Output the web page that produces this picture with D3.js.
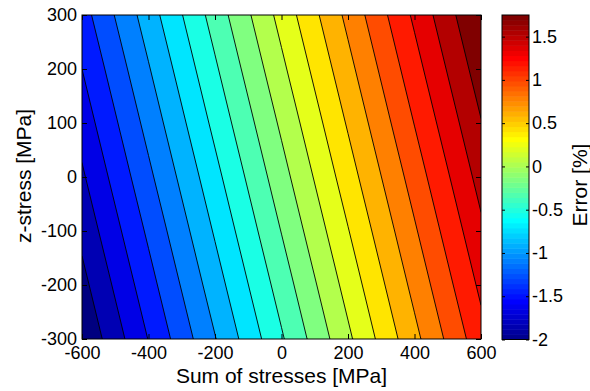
<!DOCTYPE html>
<html><head><meta charset="utf-8">
<script src="https://cdn.jsdelivr.net/npm/d3@7"></script>
<style>body{margin:0;background:#fff}text{font-family:Arial,"Liberation Sans",sans-serif;fill:#000}</style>
</head><body>
<svg id="chart" width="590" height="391"></svg>
<script>
// ---- data ----
const xValues = [-600, -400, -200, 0, 200, 400, 600];          // Sum of stresses [MPa]
const yValues = [-300, -200, -100, 0, 100, 200, 300];          // z-stress [MPa]
// Error [%] at each (x, y); rows follow yValues (ascending), columns follow xValues
const errorGrid = [
  [-2.000, -1.478, -0.957, -0.435, 0.087, 0.609, 1.130],
  [-1.897, -1.375, -0.853, -0.332, 0.190, 0.712, 1.234],
  [-1.793, -1.272, -0.750, -0.228, 0.293, 0.815, 1.337],
  [-1.690, -1.168, -0.647, -0.125, 0.397, 0.918, 1.440],
  [-1.587, -1.065, -0.543, -0.022, 0.500, 1.022, 1.543],
  [-1.484, -0.962, -0.440, 0.082, 0.603, 1.125, 1.647],
  [-1.380, -0.858, -0.337, 0.185, 0.706, 1.228, 1.750]
];
const contourLevels = [-1.841, -1.663, -1.484, -1.305, -1.127, -0.948, -0.770, -0.591, -0.413, -0.234,
                       -0.055, 0.123, 0.302, 0.480, 0.659, 0.838, 1.016, 1.195, 1.373, 1.552];
const xTicks = [-600, -400, -200, 0, 200, 400, 600];
const yTicks = [-300, -200, -100, 0, 100, 200, 300];
const cbTicks = [-2, -1.5, -1, -0.5, 0, 0.5, 1, 1.5];
const cbDomain = [-2, 1.75];
const xTitle = "Sum of stresses [MPa]";
const yTitle = "z-stress [MPa]";
const cbTitle = "Error [%]";

// ---- colormap (jet) ----
const clamp = v => Math.max(0, Math.min(1, v));
function jetT(t) {
  return d3.rgb(255 * clamp(1.5 - Math.abs(4 * t - 3)), 255 * clamp(1.5 - Math.abs(4 * t - 2)), 255 * clamp(1.5 - Math.abs(4 * t - 1))).toString();
}
function jetMap(n) {
  const m = Math.ceil(n / 4), u = [];
  for (let i = 1; i <= m; i++) u.push(i / m);
  for (let i = 0; i < m - 1; i++) u.push(1);
  for (let i = m; i >= 1; i--) u.push(i / m);
  const gOff = Math.ceil(m / 2) - (n % 4 === 1 ? 1 : 0);
  const J = Array.from({length: n}, () => [0, 0, 0]);
  u.forEach((val, k) => {
    const g = gOff + k + 1, r = g + m, b = g - m;
    if (r <= n) J[r - 1][0] = val;
    if (g <= n) J[g - 1][1] = val;
    if (b >= 1) J[b - 1][2] = val;
  });
  return J.map(c => d3.rgb(c[0] * 255, c[1] * 255, c[2] * 255).toString());
}

const svg = d3.select("#chart");
const L = 82, T = 15, R = 481, B = 339;
const x = d3.scaleLinear([xValues[0], xValues[xValues.length - 1]], [L, R]);
const y = d3.scaleLinear([yValues[0], yValues[yValues.length - 1]], [B, T]);

const nx = xValues.length, ny = yValues.length;
const gridX = d3.scaleLinear([0.5, nx - 0.5], [xValues[0], xValues[nx - 1]]);
const gridY = d3.scaleLinear([0.5, ny - 0.5], [yValues[0], yValues[ny - 1]]);
const path = d3.geoPath(d3.geoTransform({
  point(px, py) { this.stream.point(x(gridX(px)), y(gridY(py))); }
}));

svg.append("defs").append("clipPath").attr("id", "clip")
  .append("rect").attr("x", L).attr("y", T).attr("width", R - L).attr("height", B - T);

const nBands = contourLevels.length + 1;
const bandColor = i => jetT(i / (nBands - 1));
const contours = d3.contours().size([nx, ny]).thresholds(contourLevels)(errorGrid.flat());

const plot = svg.append("g").attr("clip-path", "url(#clip)");
plot.append("rect").attr("x", L).attr("y", T).attr("width", R - L).attr("height", B - T).attr("fill", bandColor(0));
plot.selectAll("path.band").data(contours).join("path").attr("class", "band")
  .attr("d", path).attr("fill", (d, i) => bandColor(i + 1)).attr("stroke", "none");
plot.selectAll("path.line").data(contours).join("path").attr("class", "line")
  .attr("d", path).attr("fill", "none").attr("stroke", "#000").attr("stroke-width", 0.9);

// ---- axes ----
const fs = 18;
const fmt = d => String(d);
const styleAxis = g => { g.select(".domain").remove(); g.selectAll("line").attr("stroke", "#000"); g.selectAll("text").attr("font-size", fs).attr("fill", "#000").attr("font-family", "Arial, 'Liberation Sans', sans-serif"); };
svg.append("g").attr("transform", `translate(0,${B})`)
  .call(d3.axisBottom(x).tickValues(xTicks).tickSize(-5).tickPadding(7).tickFormat(fmt)).call(styleAxis);
svg.append("g").attr("transform", `translate(0,${T})`)
  .call(d3.axisTop(x).tickValues(xTicks).tickSize(-5).tickFormat("")).call(styleAxis);
svg.append("g").attr("transform", `translate(${L},0)`)
  .call(d3.axisLeft(y).tickValues(yTicks).tickSize(-5).tickPadding(5).tickFormat(fmt)).call(styleAxis);
svg.append("g").attr("transform", `translate(${R},0)`)
  .call(d3.axisRight(y).tickValues(yTicks).tickSize(-5).tickFormat("")).call(styleAxis);
svg.append("rect").attr("x", L).attr("y", T).attr("width", R - L).attr("height", B - T)
  .attr("fill", "none").attr("stroke", "#000").attr("stroke-width", 1);

svg.append("text").attr("x", (L + R) / 2).attr("y", 383).attr("text-anchor", "middle").attr("font-size", 21).text(xTitle);
svg.append("text").attr("transform", `translate(31,176) rotate(-90)`).attr("text-anchor", "middle").attr("font-size", 21).text(yTitle);

// ---- colorbar ----
const cL = 502, cR = 529, cT = 15, cB = 339.5;
const cy = d3.scaleLinear(cbDomain, [cB, cT]);
const cmap = jetMap(64);
const step = (cbDomain[1] - cbDomain[0]) / cmap.length;
svg.append("g").selectAll("rect").data(cmap).join("rect")
  .attr("x", cL).attr("width", cR - cL)
  .attr("y", (d, i) => cy(cbDomain[0] + (i + 1) * step))
  .attr("height", (d, i) => cy(cbDomain[0] + i * step) - cy(cbDomain[0] + (i + 1) * step) + 0.5)
  .attr("fill", d => d);
svg.append("g").attr("transform", `translate(${cR},0)`)
  .call(d3.axisRight(cy).tickValues(cbTicks).tickSize(-3).tickPadding(3).tickFormat(fmt)).call(styleAxis);
svg.append("g").attr("transform", `translate(${cL},0)`)
  .call(d3.axisLeft(cy).tickValues(cbTicks).tickSize(-3).tickFormat("")).call(styleAxis);
svg.append("rect").attr("x", cL).attr("y", cT).attr("width", cR - cL).attr("height", cB - cT)
  .attr("fill", "none").attr("stroke", "#000").attr("stroke-width", 1);
svg.append("text").attr("transform", `translate(587,185) rotate(-90)`).attr("text-anchor", "middle").attr("font-size", 21).text(cbTitle);
</script>
</body></html>
